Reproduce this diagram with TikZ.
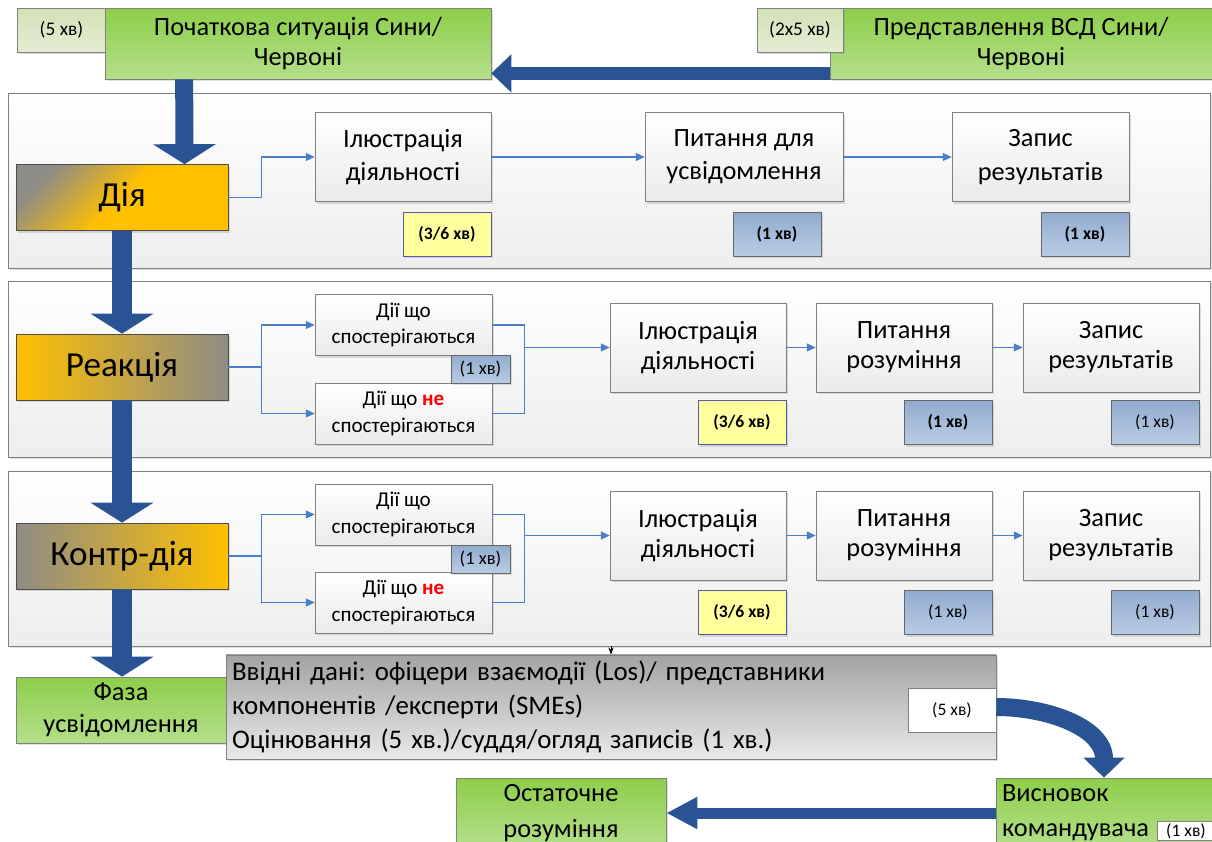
\documentclass[tikz,border=0pt]{standalone}
\usepackage{fontspec}
\setmainfont{Carlito}
\usetikzlibrary{positioning,arrows.meta,shadows}
\frenchspacing

\definecolor{ambr}{HTML}{FFC000}
\definecolor{ash}{HTML}{8E8C86}
\definecolor{grn}{HTML}{8DCE4A}
\definecolor{grnlt}{HTML}{B5DF8B}
\definecolor{sage}{HTML}{D3E1B6}
\definecolor{sagelt}{HTML}{E4EDD3}
\definecolor{steel}{HTML}{92ABCF}
\definecolor{steellt}{HTML}{B9CCE4}
\definecolor{lemon}{HTML}{FFFF9E}
\definecolor{arrowblue}{HTML}{2A5393}
\definecolor{linkblue}{HTML}{4A7EC8}
\definecolor{slate}{HTML}{A3A3A3}
\definecolor{mist}{HTML}{E9E9E9}

\tikzset{
  shade1/.style={drop shadow={shadow xshift=1.2pt, shadow yshift=-1.2pt, opacity=0.25}},
  panel/.style={draw=gray, top color=white, bottom color=black!7, minimum width=24.04cm, minimum height=3.5cm, shade1},
  phase/.style={draw=gray!60!black, minimum width=4.24cm, minimum height=1.32cm, font=\fontsize{20}{24}\selectfont, shade1},
  proc/.style={draw=gray, top color=white, bottom color=black!8, align=center, minimum width=3.52cm, minimum height=1.78cm, font=\fontsize{15}{17}\selectfont, shade1},
  obsbox/.style={proc, minimum width=3.54cm, minimum height=1.22cm, font=\fontsize{12}{15.3}\selectfont},
  greenbox/.style={draw=gray, top color=grn, bottom color=grnlt, align=center, font=\fontsize{15}{17}\selectfont, shade1},
  tagG/.style={draw=gray, top color=sage, bottom color=sagelt, minimum width=1.78cm, minimum height=0.88cm, font=\fontsize{11}{13}\selectfont, shade1},
  timeY/.style={draw=gray!70!blue, fill=lemon, minimum width=1.76cm, minimum height=0.88cm, font=\fontsize{10}{12}\selectfont\bfseries, shade1},
  timeB/.style={draw=gray!80!black, top color=steel, bottom color=steellt, minimum width=1.76cm, minimum height=0.88cm, font=\fontsize{10}{12}\selectfont, shade1},
  timeBb/.style={timeB, font=\fontsize{10}{12}\selectfont\bfseries},
  flow/.style={draw=linkblue, line width=0.6pt, -{Triangle[width=4.5pt,length=5pt]}},
  link/.style={draw=linkblue, line width=0.6pt},
  bigarrow/.style={draw=arrowblue, line width=0.4cm, -{Triangle[width=1.24cm,length=0.4cm]}},
}

\begin{document}
\begin{tikzpicture}[x=0.02cm, y=-0.02cm]
  \useasboundingbox (0,0) rectangle (1212,841);

  % panels
  \node[panel] (panel1) at (609,180.5) {};
  \node[panel, minimum height=3.52cm] (panel2) at (609,369) {};
  \node[panel] (panel3) at (609,558.5) {};

  % top row
  \node[tagG] (initT) at (61.5,30) {(5 хв)};
  \node[greenbox, minimum width=7.72cm, minimum height=1.42cm] (init) at (298,43.5) {Початкова ситуація Сини/\\Червоні};
  \node[greenbox, minimum width=7.64cm, minimum height=1.42cm] (pres) at (1021,43.5) {Представлення ВСД Сини/\\Червоні};
  \node[tagG, minimum width=1.72cm] (presT) at (800,30) {(2x5 хв)};

  % row 1
  \node[phase, top color=ash, bottom color=ambr, middle color=ambr, shading angle=45] (dia) at (122,197.5) {Дія};
  \node[proc, font=\fontsize{15}{19}\selectfont] (ill1) at (403,157) {Ілюстрація\\діяльності};
  \node[proc, minimum width=3.96cm, font=\fontsize{15}{19}\selectfont] (pit1) at (744,157) {Питання для\\усвідомлення};
  \node[proc, minimum width=3.54cm, font=\fontsize{15}{19}\selectfont] (zap1) at (1040.5,157) {Запис\\результатів};
  \node[timeY, below left=0.2cm and 0cm of ill1.south east] (t1a) {(3/6 хв)};
  \node[timeBb, below left=0.2cm and 0.44cm of pit1.south east] (t1b) {(1 хв)};
  \node[timeBb, below left=0.2cm and 0cm of zap1.south east] (t1c) {(1 хв)};

  % row 2
  \node[phase, left color=ambr, right color=ash] (reak) at (122,367) {Реакція};
  \node[obsbox] (obs2) at (403.5,325) {Дії що\\спостерігаються};
  \node[obsbox] (nobs2) at (403.5,413.5) {Дії що \textcolor{red}{\textbf{не}}\\спостерігаються};
  \node[proc] (ill2) at (698,347.5) {Ілюстрація\\діяльності};
  \node[proc] (pit2) at (904,347.5) {Питання\\розуміння};
  \node[proc] (zap2) at (1111,347.5) {Запис\\результатів};
  \node[timeY, below left=0.16cm and 0cm of ill2.south east] (t2a) {(3/6 хв)};
  \node[timeBb, below left=0.16cm and 0cm of pit2.south east] (t2b) {(1 хв)};
  \node[timeB, below left=0.16cm and 0cm of zap2.south east] (t2c) {(1 хв)};

  % row 3
  \node[phase, left color=ash, right color=ambr] (kontr) at (122,556) {Контр-дія};
  \node[obsbox] (obs3) at (403.5,514.5) {Дії що\\спостерігаються};
  \node[obsbox] (nobs3) at (403.5,602.5) {Дії що \textcolor{red}{\textbf{не}}\\спостерігаються};
  \node[proc] (ill3) at (698,535.5) {Ілюстрація\\діяльності};
  \node[proc] (pit3) at (904,535.5) {Питання\\розуміння};
  \node[proc] (zap3) at (1111,535.5) {Запис\\результатів};
  \node[timeY, below left=0.2cm and 0cm of ill3.south east] (t3a) {(3/6 хв)};
  \node[timeB, below left=0.2cm and 0cm of pit3.south east] (t3b) {(1 хв)};
  \node[timeB, below left=0.2cm and 0cm of zap3.south east] (t3c) {(1 хв)};

  % bottom
  \node[greenbox, minimum width=4.2cm, minimum height=1.32cm, font=\fontsize{15}{18}\selectfont] (faza) at (121,710) {Фаза\\усвідомлення};
  \node[draw=gray, top color=slate, bottom color=mist, minimum width=15.4cm, minimum height=2.04cm,
        align=left, text width=15.16cm, font=\fontsize{15.3}{19.5}\selectfont, shade1] (grey) at (611,707)
        {Ввідні дані: офіцери взаємодії (Los)/ представники\\компонентів /експерти (SMEs)\\Оцінювання (5 хв.)/суддя/огляд записів (1 хв.)};
  \node[draw=gray, fill=white, minimum width=1.76cm, minimum height=0.88cm, font=\fontsize{10}{12}\selectfont] (t5) at (952,710) {(5 хв)};
  \node[greenbox, minimum width=4.32cm, minimum height=1.4cm, align=left, text width=4.08cm, font=\fontsize{15}{20}\selectfont] (visn) at (1104,813) {Висновок\\командувача};
  \node[greenbox, minimum width=4.2cm, minimum height=1.4cm, font=\fontsize{15}{20}\selectfont] (ost) at (561,813) {Остаточне\\розуміння};
  \node[draw=gray, fill=white, inner sep=1pt, minimum width=1.14cm, minimum height=0.38cm, font=\fontsize{10}{12}\selectfont] (t6) at (1186,831) {(1 хв)};

  % flow links
  \draw[flow] (dia.east) -- ++(33,0) |- (ill1.west);
  \draw[flow] (ill1.east) -- (pit1.west);
  \draw[flow] (pit1.east) -- (zap1.west);

  \draw[flow] (reak.east) -- ++(33,0) |- (obs2.west);
  \draw[flow] (reak.east) -- ++(33,0) |- (nobs2.west);
  \draw[link] (obs2.east) -- ++(32,0) |- (nobs2.east);
  \draw[flow] (obs2.east) ++(32,0) |- (ill2.west);
  \draw[flow] (ill2.east) -- (pit2.west);
  \draw[flow] (pit2.east) -- (zap2.west);

  \draw[flow] (kontr.east) -- ++(33,0) |- (obs3.west);
  \draw[flow] (kontr.east) -- ++(33,0) |- (nobs3.west);
  \draw[link] (obs3.east) -- ++(32,0) |- (nobs3.east);
  \draw[flow] (obs3.east) ++(32,0) |- (ill3.west);
  \draw[flow] (ill3.east) -- (pit3.west);
  \draw[flow] (pit3.east) -- (zap3.west);

  \node[draw=gray!80!black, top color=steel, bottom color=steellt, minimum width=1.18cm, minimum height=0.56cm, inner sep=1pt, font=\fontsize{10.5}{12}\selectfont, shade1] (t2o) at (480.5,369) {(1 хв)};
  \node[draw=gray!80!black, top color=steel, bottom color=steellt, minimum width=1.18cm, minimum height=0.56cm, inner sep=1pt, font=\fontsize{10.5}{12}\selectfont, shade1] (t3o) at (480.5,559) {(1 хв)};

  % big arrows
  \draw[bigarrow, line width=0.26cm, -{Triangle[width=0.74cm,length=0.4cm]}] ([yshift=0.12cm]pres.south west) -- ([yshift=0.12cm]init.south east);
  \draw[bigarrow, line width=0.36cm] ([xshift=1.59cm]init.south west) -- ([xshift=1.25cm]dia.north);
  \draw[bigarrow] (dia.south) -- (reak.north);
  \draw[bigarrow] (reak.south) -- (kontr.north);
  \draw[bigarrow] (kontr.south) -- (kontr.south |- faza.north);
  \draw[bigarrow, line width=0.36cm, -{Triangle[width=0.8cm,length=0.4cm]}] (grey.east) to[out=0,in=90] (visn.north);
  \draw[bigarrow, line width=0.22cm, -{Triangle[width=0.6cm,length=0.62cm]}] (visn.west) -- (ost.east);
  \draw[-{Stealth[length=4pt,width=3pt]}, thin] (grey.north |- panel3.south) -- (grey.north);
\end{tikzpicture}
\end{document}
